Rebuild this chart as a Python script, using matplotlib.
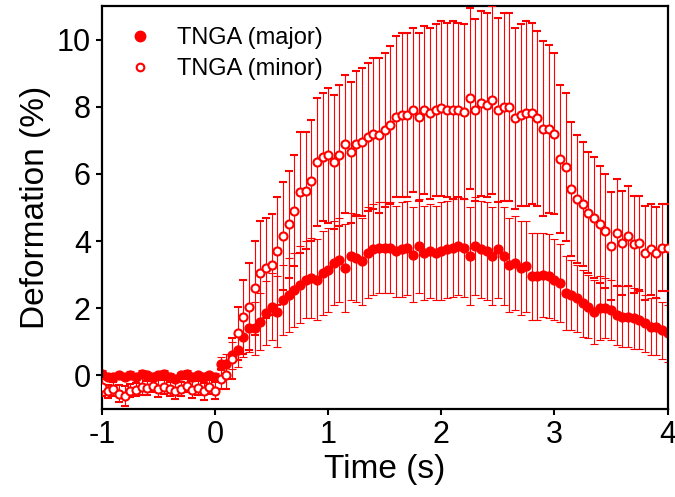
import numpy as np
import matplotlib
matplotlib.use('Agg')
import matplotlib.pyplot as plt
from matplotlib.lines import Line2D

plt.rcParams['font.family'] = ['Liberation Sans', 'DejaVu Sans']
plt.rcParams['axes.unicode_minus'] = False

# time axis: -1 s to 4 s, one sample every 0.05 s
time_s = np.round(np.arange(-1.0, 4.0001, 0.05), 2)

major = [0.05, -0.05, -0.05, 0.0, -0.05, 0.0, -0.05, 0.05, 0.0, -0.05,
         0.0, 0.05, -0.05, -0.1, 0.0, 0.05, -0.05, 0.0, -0.05, 0.0,
         -0.05, 0.35, 0.35, 0.6, 0.75, 1.15, 1.4, 1.4, 1.6, 1.85,
         2.05, 1.9, 2.25, 2.4, 2.55, 2.7, 2.85, 2.9, 2.85, 3.05,
         3.15, 3.35, 3.45, 3.2, 3.55, 3.5, 3.4, 3.65, 3.75, 3.8,
         3.8, 3.8, 3.7, 3.75, 3.8, 3.6, 3.85, 3.65, 3.7, 3.65,
         3.7, 3.75, 3.8, 3.85, 3.8, 3.55, 3.85, 3.75, 3.7, 3.55,
         3.75, 3.55, 3.3, 3.35, 3.2, 3.25, 2.95, 2.95, 3.0, 2.95,
         2.85, 2.75, 2.45, 2.4, 2.3, 2.15, 2.05, 1.9, 2.0, 2.0,
         1.95, 1.8, 1.75, 1.75, 1.7, 1.65, 1.55, 1.45, 1.45, 1.35,
         1.25]
major_err = [0.1, 0.1, 0.12, 0.1, 0.1, 0.12, 0.1, 0.1, 0.1, 0.12,
             0.1, 0.1, 0.12, 0.1, 0.1, 0.1, 0.12, 0.1, 0.1, 0.1,
             0.12, 0.2, 0.3, 0.4, 0.5, 0.6, 0.7, 0.8, 0.85, 0.95,
             1.0, 1.05, 1.05, 1.1, 1.1, 1.15, 1.15, 1.2, 1.2, 1.25,
             1.25, 1.25, 1.25, 1.3, 1.3, 1.3, 1.3, 1.35, 1.35, 1.35,
             1.35, 1.35, 1.35, 1.4, 1.4, 1.4, 1.4, 1.4, 1.4, 1.4,
             1.45, 1.45, 1.45, 1.45, 1.45, 1.45, 1.45, 1.45, 1.45, 1.45,
             1.45, 1.45, 1.4, 1.4, 1.4, 1.35, 1.3, 1.3, 1.25, 1.25,
             1.2, 1.15, 1.1, 1.05, 1.0, 1.0, 0.95, 0.95, 0.95, 0.9,
             0.9, 0.9, 0.9, 0.9, 0.9, 0.85, 0.85, 0.85, 0.85, 0.85,
             0.85]

minor = [-0.35, -0.47, -0.4, -0.54, -0.62, -0.45, -0.42, -0.34, -0.37, -0.3,
         -0.4, -0.34, -0.4, -0.45, -0.4, -0.3, -0.42, -0.37, -0.47, -0.34,
         -0.45, -0.1, 0.0, 0.5, 1.25, 1.75, 2.05, 2.6, 3.05, 3.2,
         3.3, 3.7, 4.15, 4.5, 4.9, 5.45, 5.5, 5.8, 6.35, 6.5,
         6.55, 6.35, 6.55, 6.9, 6.65, 6.9, 6.95, 7.1, 7.2, 7.15,
         7.3, 7.45, 7.7, 7.75, 7.75, 7.9, 7.7, 7.9, 7.8, 7.9,
         7.95, 7.9, 7.9, 7.9, 7.85, 8.25, 7.9, 8.1, 8.05, 8.2,
         7.9, 8.0, 8.0, 7.65, 7.75, 7.8, 7.8, 7.65, 7.35, 7.35,
         7.2, 6.45, 6.2, 5.55, 5.25, 5.1, 4.85, 4.7, 4.5, 4.3,
         3.85, 4.25, 3.95, 4.15, 3.9, 3.95, 3.65, 3.75, 3.65, 3.8,
         3.8]
minor_err = [0.25, 0.2, 0.2, 0.25, 0.3, 0.2, 0.2, 0.25, 0.2, 0.2,
             0.25, 0.2, 0.2, 0.25, 0.2, 0.2, 0.25, 0.2, 0.25, 0.2,
             0.25, 0.3, 0.4, 0.6, 0.8, 1.1, 1.3, 1.4, 1.55, 1.5,
             1.5, 1.6, 1.6, 1.6, 1.65, 1.8, 1.75, 1.8, 1.9, 1.9,
             2.0, 2.0, 2.1, 2.05, 2.1, 2.15, 2.2, 2.2, 2.25, 2.3,
             2.3, 2.35, 2.4, 2.45, 2.45, 2.45, 2.5, 2.5, 2.55, 2.55,
             2.6, 2.6, 2.65, 2.6, 2.6, 2.7, 2.7, 2.75, 2.75, 2.8,
             2.75, 2.8, 2.8, 2.7, 2.7, 2.75, 2.7, 2.6, 2.6, 2.5,
             2.4, 2.2, 2.2, 2.0, 1.9, 1.85, 1.8, 1.8, 1.75, 1.7,
             1.6, 1.6, 1.55, 1.5, 1.45, 1.4, 1.4, 1.35, 1.35, 1.3,
             1.3]

labels = ['TNGA (major)', 'TNGA (minor)']

fig = plt.figure(figsize=(6.75, 4.97), dpi=100)
ax = fig.add_axes([0.151, 0.177, 0.838, 0.811])

ax.errorbar(time_s, minor, yerr=minor_err, fmt='o', ms=5.8, color='red',
            mfc='white', mec='red', mew=1.5, ecolor='red', elinewidth=0.8,
            capsize=3, capthick=0.8, zorder=3)
ax.errorbar(time_s, major, yerr=major_err, fmt='o', ms=6.4, color='red',
            mec='red', ecolor='red', elinewidth=0.8,
            capsize=3, capthick=0.8, zorder=2)

ax.set_xlim(-1, 4)
ax.set_ylim(-1, 11)
ax.set_xticks([-1, 0, 1, 2, 3, 4])
ax.set_yticks([0, 2, 4, 6, 8, 10])
ax.tick_params(direction='out', length=4.5, width=1.5, labelsize=22,
               top=False, right=False)
for s in ax.spines.values():
    s.set_linewidth(1.6)

ax.set_xlabel('Time (s)', fontsize=24, labelpad=3)
ax.set_ylabel('Deformation (%)', fontsize=24, labelpad=4)

handles = [Line2D([], [], ls='none', marker='o', ms=7.5, color='red'),
           Line2D([], [], ls='none', marker='o', ms=5.5, mfc='white',
                  mec='red', mew=1.5)]
ax.legend(handles, labels, loc='upper left', frameon=False, fontsize=17,
          handlelength=1.0, handletextpad=1.1, labelspacing=0.38,
          bbox_to_anchor=(0.008, 1.0))

fig.savefig('out.png', dpi=100)
